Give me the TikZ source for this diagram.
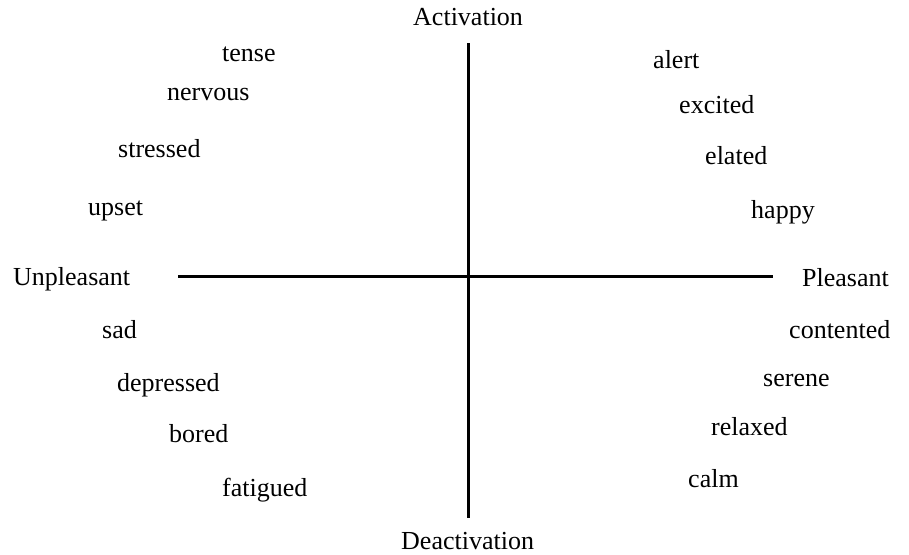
\documentclass[tikz,border=0pt]{standalone}
\usepackage{fontspec}
\setmainfont{Liberation Serif}
\begin{document}
\begin{tikzpicture}[x=1pt,y=-1pt,
  mood/.style={font=\fontsize{26}{30}\selectfont, anchor=base west, inner sep=0pt},
  axis/.style={line width=3pt}]
\useasboundingbox (0,0) rectangle (909,554);
% axes
\coordinate (W) at (178,276);
\coordinate (E) at (773,276);
\coordinate (N) at (468,43);
\coordinate (S) at (468,518);
\draw[axis] (W) -- (E);
\draw[axis] (N) -- (S);
% axis labels
\node[mood] (act) at (413,25) {Activation};
\node[mood] (deact) at (401,549) {Deactivation};
\node[mood] (unpl) at (13,285) {Unpleasant};
\node[mood] (pl) at (802,286) {Pleasant};
\foreach \word/\x/\y in {tense/222/61, nervous/167/100, stressed/118/157, upset/88/215,
  sad/102/338, depressed/117/391, bored/169/442, fatigued/222/496} % left side
\node[mood] (\word) at (\x,\y) {\word};
\foreach \word/\x/\y in {alert/653/68, excited/679/113, elated/705/164, happy/751/218,
  contented/789/338, serene/763/386, relaxed/711/435, calm/688/487} % right side
\node[mood] (\word) at (\x,\y) {\word};
\end{tikzpicture}
\end{document}
